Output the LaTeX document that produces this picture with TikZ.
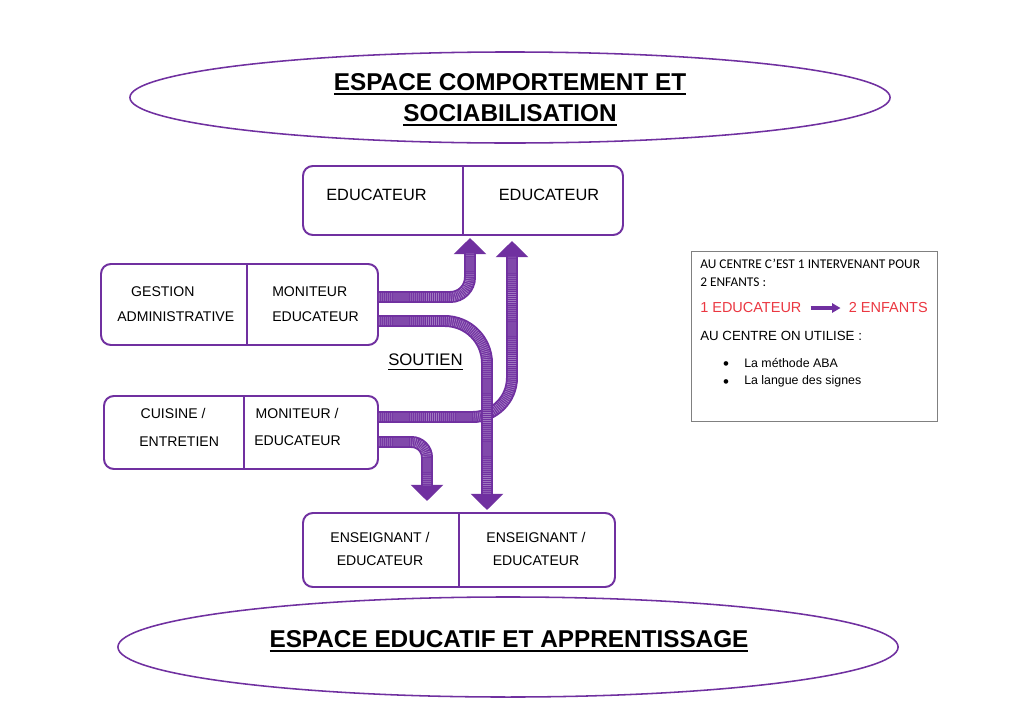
\documentclass[tikz,border=0pt]{standalone}
\usepackage{fontspec}
\setmainfont{Liberation Sans}
\newfontfamily\calibri{Carlito}
\usetikzlibrary{arrows.meta}
\usetikzlibrary{calc, fit}
\definecolor{mauve}{HTML}{7030A0}
\definecolor{rougeleg}{RGB}{235,55,65}
\tikzstyle{cadre}=[draw=mauve, line width=1.4pt, rounded corners=7pt, inner sep=0pt]
\tikzstyle{trait}=[draw=mauve, line width=1.4pt]
\tikzstyle{ovale}=[draw=mauve, line width=1.1pt, ellipse, inner sep=0pt]
\tikzstyle{titre}=[font=\fontsize{17.3}{22}\selectfont\bfseries, align=center, inner sep=0pt]
\tikzstyle{txt}=[font=\fontsize{10}{17.7}\selectfont, inner sep=0pt]
\tikzstyle{leg}=[font=\fontsize{9.45}{11}\selectfont, inner sep=0pt, anchor=west]
\tikzstyle{fleche}=[draw=mauve, line width=8.5pt, -{Triangle[width=22.5pt,length=11.5pt]},
  postaction={draw=white, line width=6pt, dash pattern=on .5pt off .9pt, draw opacity=.35, shorten >=11pt, -}]
\newcommand{\souligne}[2][1.4pt]{\setbox0\hbox{#2}\rlap{\rule[-3pt]{\wd0}{#1}}\box0}
\usetikzlibrary{shapes.geometric}

\begin{document}
\begin{tikzpicture}[x=0.025cm, y=-0.025cm]
      \useasboundingbox[fill=white] (0,0) rectangle (1024,724);

      % les deux espaces
      \node[ovale, minimum width=19cm, minimum height=2.275cm] (comport) at (510,97.5) {};
      \node[titre] (tcomport) at (510,99.5)
          {\souligne{ESPACE COMPORTEMENT ET}\\\souligne{SOCIABILISATION}};
      \node[ovale, minimum width=19.5cm, minimum height=2.5cm] (educ) at (508,647) {};
      \node[titre] (teduc) at (509,641) {\souligne{ESPACE EDUCATIF ET APPRENTISSAGE}};

      \foreach \nom/\xa/\ya/\xb/\yb/\xd in {haut/303/166/623/235/463, gest/101/264/378/345/247,
          cuis/104/396/378/469/244, bas/303/513/615/587/459}{
        \node[cadre, fit={(\xa,\ya) (\xb,\yb)}] (\nom) {};
        \draw[trait] (\xd,\ya) -- (\xd,\yb);
      }

      \node[txt, font=\fontsize{11.6}{14}\selectfont] (educa) at (376.5,195) {EDUCATEUR};
      \node[txt, font=\fontsize{11.6}{14}\selectfont] (educb) at (549,195) {EDUCATEUR};
      \node[txt, align=left, anchor=west] (gestion) at (117,304.5)
          {\hspace*{9.9pt}GESTION\\ADMINISTRATIVE};
      \node[txt, align=left, anchor=west] (moniteura) at (272,304.5) {MONITEUR\\EDUCATEUR};
      \node[txt, font=\fontsize{10}{19.8}\selectfont, align=left, anchor=west] (cuisine)
          at (139,427) {\hspace*{1pt}CUISINE /\\ENTRETIEN};
      \node[txt, font=\fontsize{10}{19.8}\selectfont, align=left, anchor=west] (moniteurb)
          at (254,427) {\hspace*{1pt}MONITEUR /\\EDUCATEUR};
      \node[txt, font=\fontsize{10}{17}\selectfont, align=center] (enseigna) at (380,549)
          {ENSEIGNANT /\\EDUCATEUR};
      \node[txt, font=\fontsize{10}{17}\selectfont, align=center] (enseignb) at (536,549)
          {ENSEIGNANT /\\EDUCATEUR};

      \node[txt, font=\fontsize{11.9}{14}\selectfont] (soutien) at (425.5,362)
          {\souligne[.7pt]{SOUTIEN}};

      % fleches de soutien
      \draw[fleche, rounded corners=28pt] ($(cuis.east)+(0,-15.5)$) -| ($(haut.south)+(49,5)$);
      \draw[fleche, rounded corners=30pt] ($(gest.east)+(0,16.5)$) -| ($(bas.north)+(28,-2)$);
      \draw[fleche, rounded corners=14pt] ($(gest.east)+(0,-7.5)$) -| ($(haut.south)+(7,2)$);
      \draw[fleche, rounded corners=11pt] ($(cuis.east)+(0,9.5)$) -| ($(bas.north)+(-32,-11)$);

      % legende
      \node[draw=black!50, line width=.7pt, inner sep=0pt, fit={(691,251) (937,421)}] (legende) {};
      \node[leg, font=\calibri\fontsize{9.5}{11}\selectfont] (ligne1) at (700,264)
          {AU CENTRE C’EST 1 INTERVENANT POUR};
      \node[leg, font=\calibri\fontsize{9.5}{11}\selectfont] (ligne2) at (700,282) {2 ENFANTS :};
      \node[leg, font=\fontsize{10.3}{12}\selectfont, text=rougeleg] (unedu) at (700,308) {1 EDUCATEUR};
      \node[leg, font=\fontsize{10.3}{12}\selectfont, text=rougeleg, anchor=east] (deuxenf)
          at (928,308) {2 ENFANTS};
      \draw[mauve, line width=2.2pt, -{Triangle[width=6.5pt,length=6pt]}, shorten <=6.4pt, shorten >=5.7pt]
          (unedu) -- (deuxenf);
      \node[leg] (ligne3) at (700,336) {AU CENTRE ON UTILISE :};
      \foreach \y/\t [count=\i] in {363/La méthode ABA, 381/La langue des signes}{
        \node[inner sep=0pt, font=\fontsize{12}{12}\selectfont] (puce\i) at (726,\y+2.5) {\textbullet};
        \node[leg, font=\fontsize{8.8}{10}\selectfont] (item\i) at (744,\y) {\t};
      }
\end{tikzpicture}
\end{document}
